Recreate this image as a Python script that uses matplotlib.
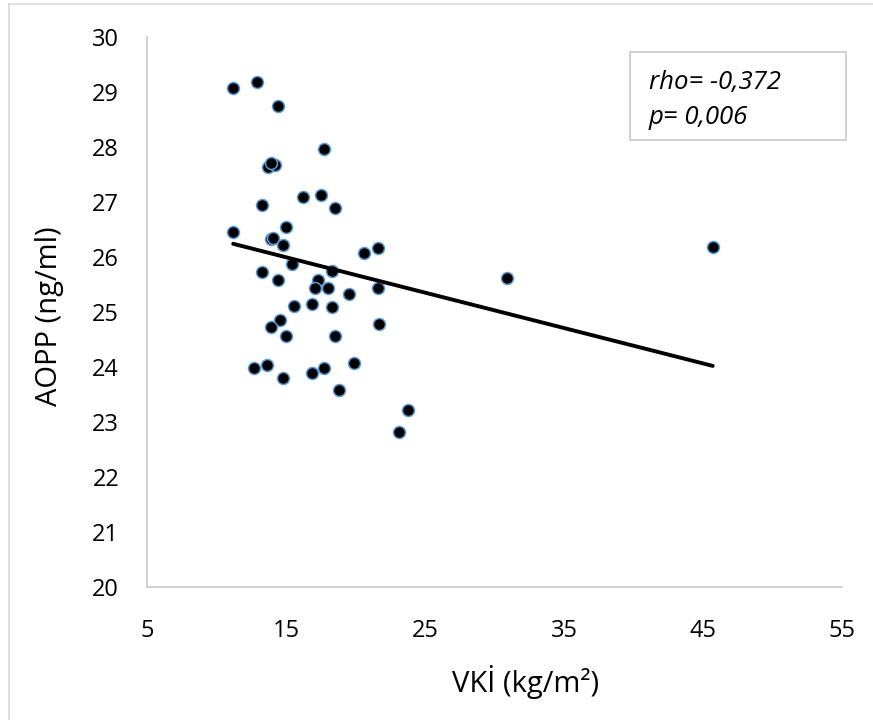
import matplotlib
matplotlib.use('Agg')
import matplotlib.pyplot as plt
from matplotlib.lines import Line2D
from matplotlib.patches import Rectangle

# VKİ (kg/m2) vs AOPP (ng/ml)
vki = [11.2, 12.9, 14.4, 17.7, 13.7, 14.2, 13.9, 13.3, 16.2, 17.5, 18.5,
       11.2, 15.0, 13.9, 14.1, 14.8, 20.6, 21.6, 15.4, 13.3, 14.4, 18.3,
       17.3, 17.1, 18.0, 19.5, 21.6, 15.6, 16.9, 18.3, 14.6, 13.9, 15.0,
       18.5, 21.7, 12.7, 13.6, 14.8, 16.9, 17.7, 19.9, 18.8, 23.8, 23.1,
       30.9, 45.7]
aopp = [29.07, 29.18, 28.75, 27.96, 27.64, 27.67, 27.71, 26.95, 27.09, 27.13, 26.89,
        26.45, 26.55, 26.33, 26.35, 26.22, 26.07, 26.16, 25.87, 25.73, 25.58, 25.75,
        25.58, 25.44, 25.44, 25.33, 25.44, 25.11, 25.15, 25.09, 24.85, 24.73, 24.56,
        24.56, 24.78, 23.98, 24.04, 23.80, 23.89, 23.98, 24.07, 23.58, 23.22, 22.82,
        25.62, 26.18]

# linear trend line end points
trend_x = [11.2, 45.7]
trend_y = [26.24, 24.02]

x_ticks = [5, 15, 25, 35, 45, 55]
y_ticks = [20, 21, 22, 23, 24, 25, 26, 27, 28, 29, 30]
stats_lines = ['rho= -0,372', 'p= 0,006']

plt.rcParams['font.family'] = ['Open Sans', 'DejaVu Sans']

fig = plt.figure(figsize=(8.73, 7.2), dpi=100)
ax = fig.add_axes([147 / 873, 1 - 587 / 720, 695 / 873, 550 / 720])

ax.scatter(vki, aopp, s=74, c='black', edgecolors='#5b9bd5', linewidths=1.1, zorder=3)
ax.plot(trend_x, trend_y, color='black', linewidth=2.8, solid_capstyle='round', zorder=4)

ax.set_xlim(5, 55)
ax.set_ylim(20, 30)
ax.set_xticks(x_ticks)
ax.set_yticks(y_ticks)
ax.tick_params(length=0, labelsize=17, colors='black')
ax.tick_params(axis='y', pad=20)
ax.tick_params(axis='x', pad=23)
for s in ['top', 'right']:
    ax.spines[s].set_visible(False)
for s in ['left', 'bottom']:
    ax.spines[s].set_color('#c8c8c8')
    ax.spines[s].set_linewidth(1.2)

ax.set_xlabel('VKİ (kg/m²)', fontsize=21, va='center')
ax.xaxis.set_label_coords(0.545, -0.173)
ax.set_ylabel('AOPP (ng/ml)', fontsize=21, va='center')
ax.yaxis.set_label_coords(-0.14, 0.493)

# stats box
fig.add_artist(Rectangle((630 / 873, 1 - 140 / 720), 216 / 873, 88 / 720,
                         transform=fig.transFigure, facecolor='white',
                         edgecolor='#c8c8c8', linewidth=1.2))
for i, t in enumerate(stats_lines):
    fig.text(649 / 873, 1 - (82 + 35 * i) / 720, t, fontsize=18.5, style='italic',
             va='center', ha='left')

# outer frame (left and top edges only visible)
fig.add_artist(Line2D([9 / 873, 9 / 873], [0, 1 - 4 / 720], transform=fig.transFigure,
                      color='#d9d9d9', linewidth=1.2))
fig.add_artist(Line2D([9 / 873, 1], [1 - 4 / 720, 1 - 4 / 720], transform=fig.transFigure,
                      color='#d9d9d9', linewidth=1.2))

fig.savefig('out.png', dpi=100)
